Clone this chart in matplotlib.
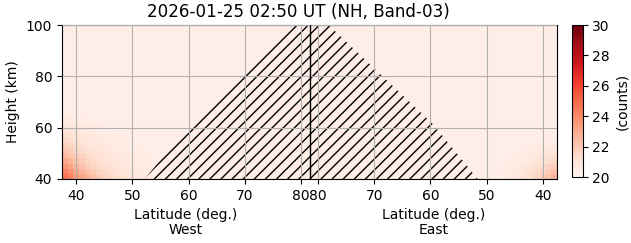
import numpy as np
import matplotlib
matplotlib.use('Agg')
import matplotlib.pyplot as plt
from matplotlib.patches import Polygon

# Geometry of the track: latitude of the turning point (centre of the plot)
lat_top = 81.5
lat_edge = 37.5

# Tick latitudes on each side
west_ticks = [40, 50, 60, 70, 80]
east_ticks = [80, 70, 60, 50, 40]

# Height grid (km), 2 km cells
height_edges = np.arange(40, 102, 2)
# Along-track grid in degrees, 1 deg cells, -44 (West edge) .. 44 (East edge)
track_edges = np.arange(-44, 45, 1)

background = 20.4

# Lower-left (West) corner readings: rows 40-42 km upward, cols from lat 37.5 inward
west_corner = [
    [24.8, 24.2, 23.6, 23.1, 22.7, 22.3, 22.0, 21.7, 21.5, 21.3, 21.1, 21.0, 20.9, 20.8, 20.7, 20.6],
    [24.2, 23.7, 23.2, 22.7, 22.3, 22.0, 21.7, 21.5, 21.3, 21.2, 21.0, 20.9, 20.8, 20.7, 20.6, 20.6],
    [23.6, 23.2, 22.7, 22.3, 22.0, 21.7, 21.5, 21.3, 21.2, 21.0, 20.9, 20.8, 20.7, 20.7, 20.6, 20.5],
    [23.0, 22.7, 22.3, 22.0, 21.7, 21.5, 21.3, 21.1, 21.0, 20.9, 20.8, 20.7, 20.7, 20.6, 20.5, 20.5],
    [22.5, 22.2, 21.9, 21.7, 21.4, 21.3, 21.1, 21.0, 20.9, 20.8, 20.7, 20.7, 20.6, 20.5, 20.5, 20.5],
    [22.1, 21.9, 21.6, 21.4, 21.2, 21.1, 21.0, 20.9, 20.8, 20.7, 20.7, 20.6, 20.5, 20.5, 20.5, 20.4],
    [21.8, 21.6, 21.4, 21.2, 21.0, 20.9, 20.8, 20.8, 20.7, 20.6, 20.6, 20.5, 20.5, 20.5, 20.4, 20.4],
    [21.5, 21.3, 21.1, 21.0, 20.9, 20.8, 20.7, 20.7, 20.6, 20.6, 20.5, 20.5, 20.5, 20.4, 20.4, 20.4],
    [21.2, 21.1, 21.0, 20.9, 20.8, 20.7, 20.6, 20.6, 20.5, 20.5, 20.5, 20.4, 20.4, 20.4, 20.4, 20.4],
    [21.0, 20.9, 20.8, 20.7, 20.7, 20.6, 20.5, 20.5, 20.5, 20.4, 20.4, 20.4, 20.4, 20.4, 20.4, 20.4],
    [20.8, 20.7, 20.7, 20.6, 20.6, 20.5, 20.5, 20.4, 20.4, 20.4, 20.4, 20.4, 20.4, 20.4, 20.4, 20.4],
    [20.7, 20.6, 20.6, 20.5, 20.5, 20.4, 20.4, 20.4, 20.4, 20.4, 20.4, 20.4, 20.4, 20.4, 20.4, 20.4],
]

# Lower-right (East) corner readings: rows 40-42 km upward, cols from lat 37.5 inward
east_corner = [
    [22.7, 22.3, 21.9, 21.6, 21.3, 21.1, 20.9, 20.8, 20.6, 20.5],
    [22.3, 22.0, 21.7, 21.4, 21.2, 21.0, 20.8, 20.7, 20.6, 20.5],
    [21.9, 21.7, 21.4, 21.2, 21.0, 20.9, 20.7, 20.6, 20.5, 20.5],
    [21.5, 21.3, 21.1, 21.0, 20.8, 20.7, 20.6, 20.5, 20.5, 20.4],
    [21.2, 21.0, 20.9, 20.8, 20.7, 20.6, 20.5, 20.5, 20.4, 20.4],
    [20.9, 20.8, 20.7, 20.6, 20.6, 20.5, 20.5, 20.4, 20.4, 20.4],
    [20.7, 20.6, 20.6, 20.5, 20.5, 20.4, 20.4, 20.4, 20.4, 20.4],
]

# Hatched (no-data) region outline, (along-track deg, height km)
mask_track = [-29.3, -21.6, -3.1, 3.4, 21.9, 29.9]
mask_height = [40, 60.5, 100, 100, 61.5, 40]

# build the field
ny = len(height_edges) - 1
nx = len(track_edges) - 1
field = np.full((ny, nx), background)
wc = np.array(west_corner)
field[:wc.shape[0], :wc.shape[1]] = wc
ec = np.array(east_corner)
field[:ec.shape[0], nx - ec.shape[1]:] = ec[:, ::-1]

fig = plt.figure(figsize=(6.31, 2.43), dpi=100)
ax = fig.add_axes([0.0983, 0.2634, 0.7844, 0.6337])
cax = fig.add_axes([0.906, 0.2716, 0.0174, 0.6255])

mesh = ax.pcolormesh(track_edges, height_edges, field, cmap='Reds', vmin=20, vmax=30)

plt.rcParams['hatch.color'] = 'black'
plt.rcParams['hatch.linewidth'] = 1.0
poly = Polygon(list(zip(mask_track, mask_height)), closed=True, facecolor='none',
               edgecolor='black', linewidth=0, hatch='///')
ax.add_patch(poly)

ax.axvline(0, color='black', linewidth=1.0, zorder=3)

xt = [-(lat_top - t) for t in west_ticks] + [lat_top - t for t in east_ticks]
ax.set_xticks(xt)
ax.set_xticklabels([str(t) for t in west_ticks + east_ticks])
ax.set_xlim(-(lat_top - lat_edge), lat_top - lat_edge)
ax.set_ylim(40, 100)
ax.set_yticks([40, 60, 80, 100])
ax.grid(True, color='#b0b0b0', linewidth=0.8)
ax.set_axisbelow(False)
ax.set_ylabel('Height (km)')
ax.set_title('2026-01-25 02:50 UT (NH, Band-03)', fontsize=12.1, x=0.478)

ax.text(0.25, -0.19, 'Latitude (deg.)\nWest', transform=ax.transAxes,
        ha='center', va='top', fontsize=10, linespacing=1.1)
ax.text(0.75, -0.19, 'Latitude (deg.)\nEast', transform=ax.transAxes,
        ha='center', va='top', fontsize=10, linespacing=1.1)

cb = fig.colorbar(mesh, cax=cax)
cb.set_ticks([20, 22, 24, 26, 28, 30])
cb.set_label('(counts)')

fig.savefig('out.png', dpi=100)
